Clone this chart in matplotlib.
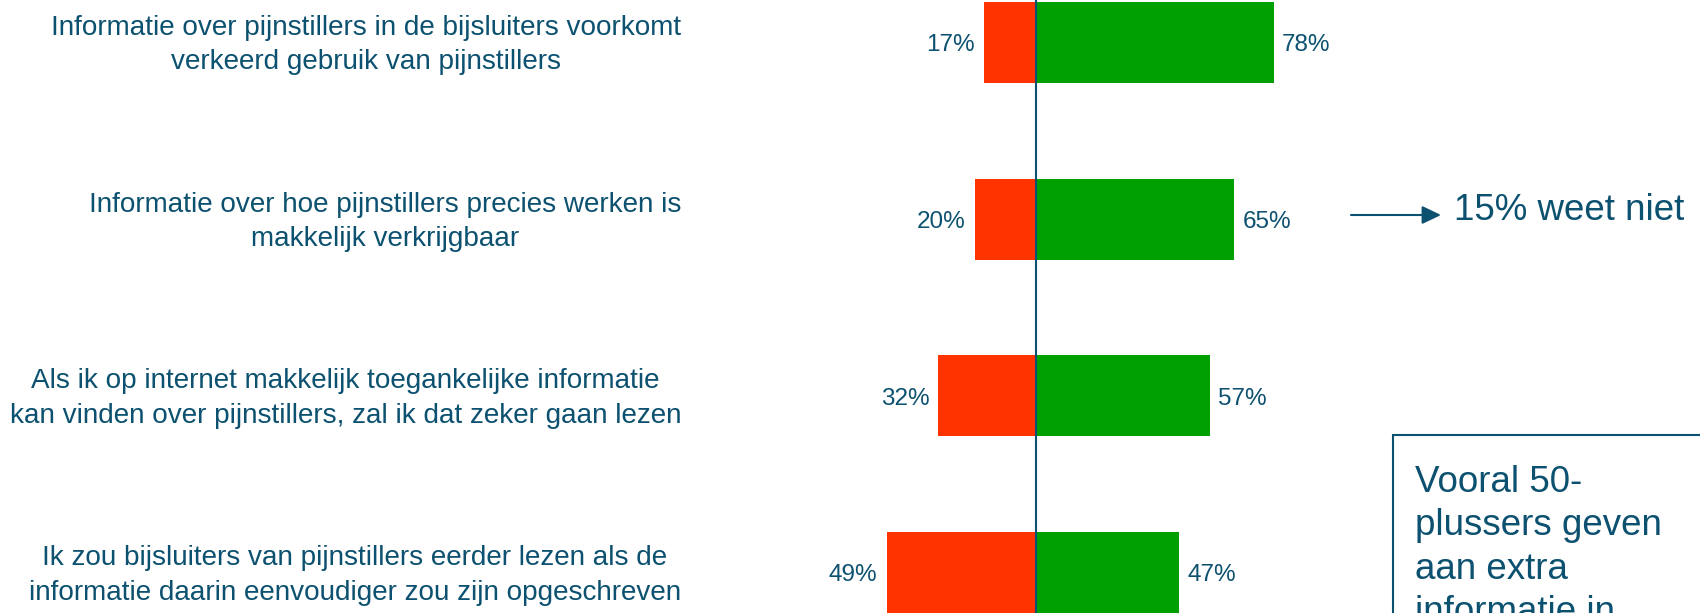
"""
Task:
    Diverging bar chart of agreement with statements about pijnstiller information.

Outputs:
    out.png
"""

import matplotlib

matplotlib.use("Agg")
import matplotlib.pyplot as plt
from matplotlib.patches import Rectangle
from matplotlib.transforms import blended_transform_factory


# <>#<>#<>#<>#<>#<>#<>#<>#<>#<>#<>#<>#<>#<>#<>#<>#<>#<>#<>#<>#<>#<>#<>#<>#<>#<>
# <> Step 0. Data and styling
# <>#<>#<>#<>#<>#<>#<>#<>#<>#<>#<>#<>#<>#<>#<>#<>#<>#<>#<>#<>#<>#<>#<>#<>#<>#<>


STATEMENTS = [
    "Informatie over pijnstillers in de bijsluiters voorkomt\nverkeerd gebruik van pijnstillers",
    "Informatie over hoe pijnstillers precies werken is\nmakkelijk verkrijgbaar",
    "Als ik op internet makkelijk toegankelijke informatie\nkan vinden over pijnstillers, zal ik dat zeker gaan lezen",
    "Ik zou bijsluiters van pijnstillers eerder lezen als de\ninformatie daarin eenvoudiger zou zijn opgeschreven",
]
DISAGREE = [17, 20, 32, 49]
AGREE = [78, 65, 57, 47]

NOTE_ARROW = "15% weet niet"
NOTE_BOX = "Vooral 50-\nplussers geven\naan extra\ninformatie in"

COLOR_TEXT = "#0D5170"
COLOR_RED = "#FF3300"
COLOR_GREEN = "#00A000"
FONT = "Liberation Sans"

FIG_W, FIG_H, DPI = 17.0, 6.13, 100

plt.rcParams["font.family"] = [FONT, "DejaVu Sans"]


# <>#<>#<>#<>#<>#<>#<>#<>#<>#<>#<>#<>#<>#<>#<>#<>#<>#<>#<>#<>#<>#<>#<>#<>#<>#<>
# <> Step 1. Bars
# <>#<>#<>#<>#<>#<>#<>#<>#<>#<>#<>#<>#<>#<>#<>#<>#<>#<>#<>#<>#<>#<>#<>#<>#<>#<>


fig = plt.figure(figsize=(FIG_W, FIG_H), dpi=DPI)
ax = fig.add_axes([0, 0, 1, 1])
ax.set_axis_off()

positions = list(range(len(STATEMENTS)))
ax.barh(positions, [-v for v in DISAGREE], height=0.46, color=COLOR_RED, zorder=2)
ax.barh(positions, AGREE, height=0.46, color=COLOR_GREEN, zorder=2)
ax.axvline(0, color=COLOR_TEXT, lw=1.5, zorder=3)

# zero sits at x=1036 px, about 3.05 px per percent
ax.set_xlim(-1036 / 3.05, (1700 - 1036) / 3.05)
ax.set_ylim(3.229, -0.2405)

for pos, low, high in zip(positions, DISAGREE, AGREE):
    ax.annotate(f"{low}%", (-low, pos), xytext=(-6.5, -2), textcoords="offset points",
                ha="right", va="center", fontsize=17.5, color=COLOR_TEXT)
    ax.annotate(f"{high}%", (high, pos), xytext=(6, -2), textcoords="offset points",
                ha="left", va="center", fontsize=17.5, color=COLOR_TEXT)

label_transform = blended_transform_factory(ax.transAxes, ax.transData)
for pos, statement in zip(positions, STATEMENTS):
    ax.annotate(statement, (681 / 1700, pos), xycoords=label_transform,
                xytext=(0, -2), textcoords="offset points", ha="right", va="center",
                multialignment="center", fontsize=20.1, color=COLOR_TEXT,
                linespacing=1.42)


# <>#<>#<>#<>#<>#<>#<>#<>#<>#<>#<>#<>#<>#<>#<>#<>#<>#<>#<>#<>#<>#<>#<>#<>#<>#<>
# <> Step 2. Notes on the right
# <>#<>#<>#<>#<>#<>#<>#<>#<>#<>#<>#<>#<>#<>#<>#<>#<>#<>#<>#<>#<>#<>#<>#<>#<>#<>


arrow_y = 1 - 215 / 613
ax.annotate("", xy=(1441 / 1700, arrow_y), xytext=(1351 / 1700, arrow_y),
            xycoords="figure fraction", textcoords="figure fraction",
            arrowprops=dict(arrowstyle="-|>,head_length=1.15,head_width=0.55",
                            color=COLOR_TEXT, lw=1.5, shrinkA=0, shrinkB=0))
fig.text(1454 / 1700, 1 - 211 / 613, NOTE_ARROW, ha="left", va="center",
         fontsize=26.5, color=COLOR_TEXT)

box_top = 1 - 435 / 613
fig.add_artist(Rectangle((1393 / 1700, -0.2), 0.5, box_top + 0.2, transform=fig.transFigure,
                         fill=False, edgecolor=COLOR_TEXT, lw=1.5))
# baseline alignment anchors the last line, so it sits three line steps below the first
fig.text(1415 / 1700, 1 - (491 + 3 * 43.7) / 613, NOTE_BOX, ha="left", va="baseline",
         fontsize=26.5, color=COLOR_TEXT, linespacing=1.31)

fig.savefig("out.png", dpi=DPI)
